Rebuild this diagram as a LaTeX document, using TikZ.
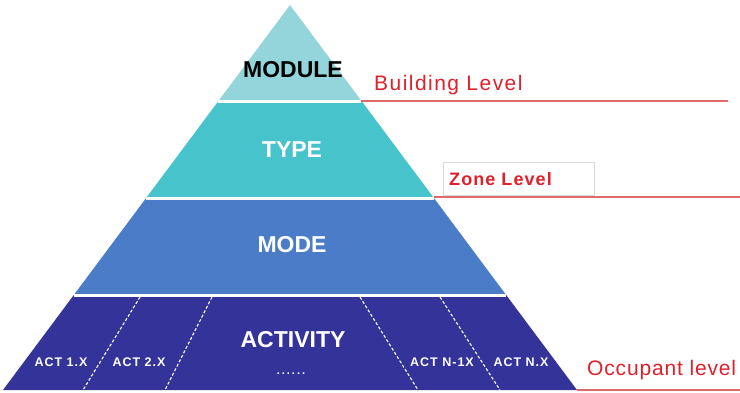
\documentclass[tikz,border=0pt]{standalone}
\usepackage{fontspec}
\setmainfont{Liberation Sans}
\definecolor{modcol}{HTML}{93D5DA}
\definecolor{typcol}{HTML}{47C3CB}
\definecolor{mdecol}{HTML}{4A7CC8}
\definecolor{actcol}{HTML}{333399}
\definecolor{lvlred}{HTML}{E0202A}
\definecolor{linered}{HTML}{E06A6A}

\begin{document}
\begin{tikzpicture}[x=1pt,y=-1pt]

\tikzstyle{title}=[font=\bfseries\fontsize{23}{26}\selectfont,text=white]
\tikzstyle{act}=[font=\bfseries\fontsize{12.5}{14}\selectfont\addfontfeature{LetterSpace=8},text=white]
\tikzstyle{level}=[font=\fontsize{21}{24}\selectfont\addfontfeature{LetterSpace=7},text=lvlred,anchor=base west,inner sep=0pt]
\tikzstyle{sep}=[white,densely dashed,line width=1.1pt]
\tikzstyle{gap}=[white,line width=3pt]
\tikzstyle{levelline}=[linered,line width=1.2pt]

\useasboundingbox (0,0) rectangle (740,392);

% pyramid bands
\begin{scope}
\clip (290,5) -- (577,390) -- (3,390) -- cycle;
\fill[modcol] (0,0) rectangle (740,101);
\fill[typcol] (0,101) rectangle (740,198);
\fill[mdecol] (0,198) rectangle (740,295);
\fill[actcol] (0,295) rectangle (740,392);
\end{scope}

\coordinate (m1) at (361,101);
\coordinate (m2) at (728,101);
\coordinate (t1) at (434,197);
\coordinate (t2) at (740,197);
\coordinate (o1) at (577,390);
\coordinate (o2) at (740,390);

\draw[levelline] (m1) -- (m2);
\draw[levelline] (t1) -- (t2);
\draw[levelline] (o1) -- (o2);

\draw[gap] (218,101) -- (m1);
\draw[gap] (146,198) -- (434,198);
\draw[gap] (74,295) -- (506,295);

% activity separators
\coordinate (s1a) at (140,297); \coordinate (s1b) at (83,390);
\coordinate (s2a) at (212,297); \coordinate (s2b) at (165,390);
\coordinate (s3a) at (360,297); \coordinate (s3b) at (418,390);
\coordinate (s4a) at (440,297); \coordinate (s4b) at (500,390);
\draw[sep] (s1a) -- (s1b);
\draw[sep] (s2a) -- (s2b);
\draw[sep] (s3a) -- (s3b);
\draw[sep] (s4a) -- (s4b);

\node[title,text=black] (module) at (293,70) {MODULE};
\node[title] (type) at (292,150) {TYPE};
\node[title] (mode) at (292,245) {MODE};
\node[title] (activity) at (293,340) {ACTIVITY};
\node[act,font=\bfseries\fontsize{11}{11}\selectfont\addfontfeature{LetterSpace=18}] (dots) at (291,374) {......};

\node[act] (a1) at (61,362) {ACT 1.X};
\node[act] (a2) at (139,362) {ACT 2.X};
\node[act] (an1) at (442,362) {ACT N-1X};
\node[act] (an) at (521,362) {ACT N.X};

\node[level] (building) at (374,90) {Building Level};
\node[draw=gray!30,fill=white,anchor=north west,minimum height=33pt,text width=139pt,
      inner xsep=6pt,font=\bfseries\fontsize{18}{20}\selectfont\addfontfeature{LetterSpace=6},text=lvlred] (zone) at (443,162) {Zone Level};
\node[level,font=\fontsize{21}{24}\selectfont\addfontfeature{LetterSpace=4}] (occupant) at (587,375) {Occupant level};

\end{tikzpicture}
\end{document}
